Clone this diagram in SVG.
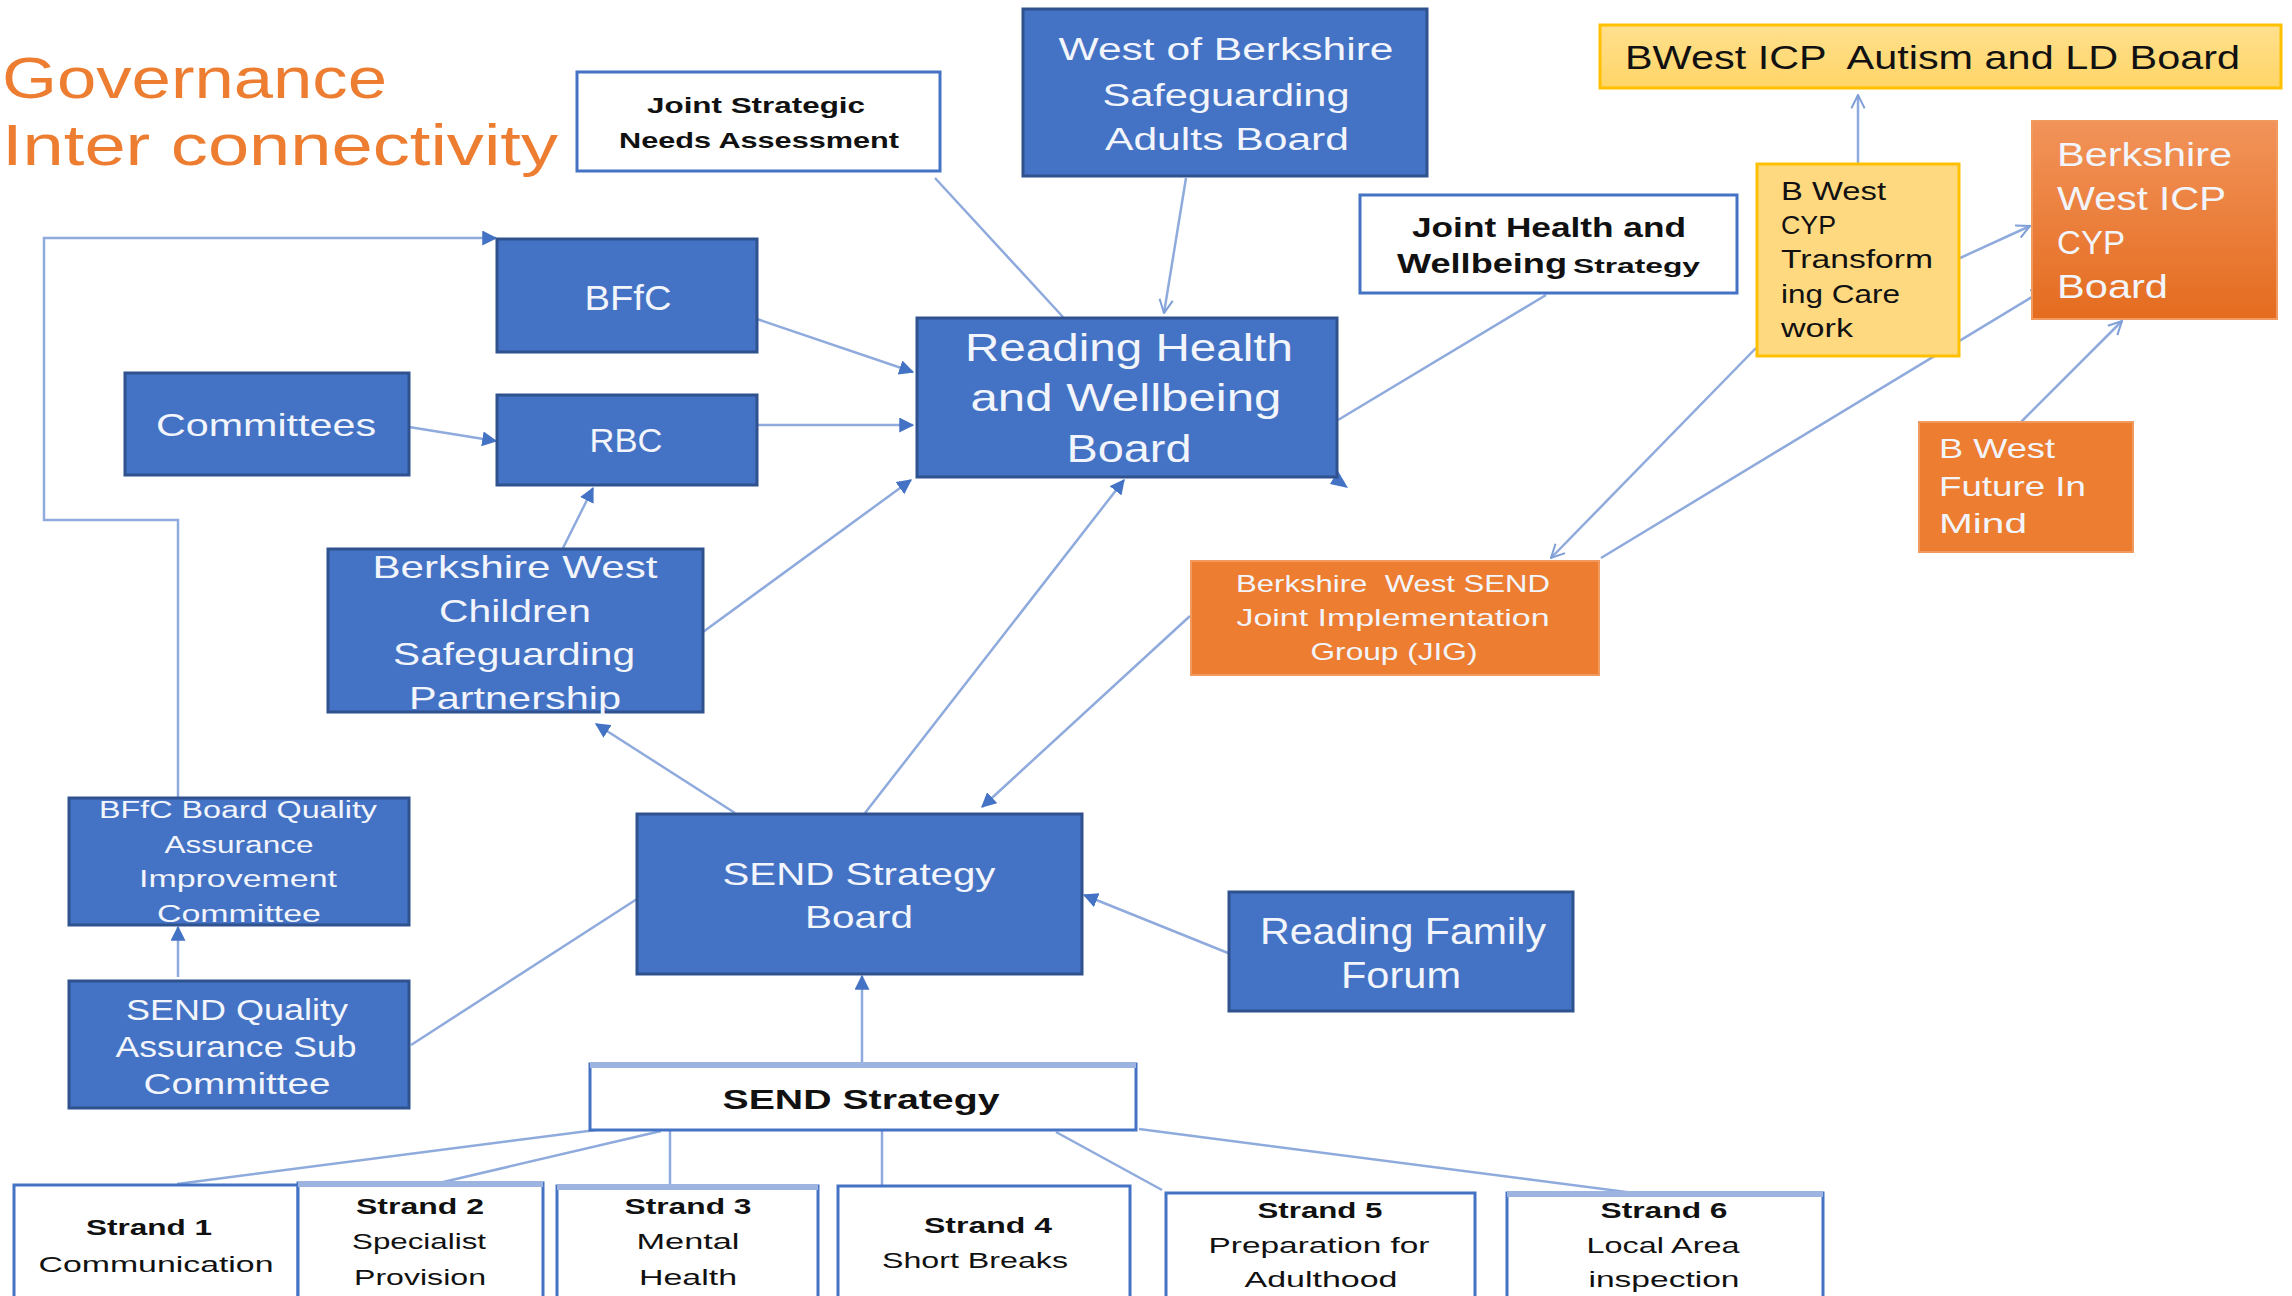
<svg xmlns="http://www.w3.org/2000/svg" width="2292" height="1296" viewBox="0 0 2292 1296">
<defs>
<style>
text{font-family:"Liberation Sans",Arial,sans-serif;}
.t{text-anchor:middle;}
.w{fill:#F2F5FB;}
.k{fill:#111;}
.b{font-weight:bold;}
.blue{fill:#4472C4;stroke:#2F528F;stroke-width:3;}
.wbox{fill:#FFFFFF;stroke:#4472C4;stroke-width:3;}
.orange{fill:#ED7D31;stroke:#F19A5F;stroke-width:2;}
.yellow{stroke:#FFC000;stroke-width:3;}
.c{fill:none;stroke:#8FAADC;stroke-width:2.5;}
.lt{stroke:#9DB3E0;stroke-width:6;}
</style>
<linearGradient id="gOr" x1="0" y1="0" x2="0" y2="1">
<stop offset="0" stop-color="#F2935A"/><stop offset="1" stop-color="#E46C1F"/>
</linearGradient>
<linearGradient id="gYe" x1="0" y1="0" x2="0" y2="1">
<stop offset="0" stop-color="#FFE08E"/><stop offset="1" stop-color="#FFD566"/>
</linearGradient>
<marker id="fa" viewBox="0 0 12 12" refX="11" refY="6" markerWidth="15" markerHeight="15" markerUnits="userSpaceOnUse" orient="auto">
<path d="M0,0 L12,6 L0,12 z" fill="#4472C4"/>
</marker>
<marker id="oa" viewBox="0 0 12 12" refX="11" refY="6" markerWidth="16" markerHeight="16" markerUnits="userSpaceOnUse" orient="auto">
<path d="M1,1 L11,6 L1,11" fill="none" stroke="#7F9FD6" stroke-width="1.5"/>
</marker>
</defs>
<rect width="2292" height="1296" fill="#FFFFFF"/>

<g id="title">
<text x="2" y="98" font-size="58" textLength="385" lengthAdjust="spacingAndGlyphs" fill="#ED7D31">Governance</text>
<text x="2" y="165" font-size="58" textLength="556" lengthAdjust="spacingAndGlyphs" fill="#ED7D31">Inter connectivity</text>
</g>

<g id="connectors">
<path class="c" d="M935,178 L1063,317"/>
<path class="c" d="M1186,178 L1164,313" marker-end="url(#oa)"/>
<path class="c" d="M757,319 L913,372" marker-end="url(#fa)"/>
<path class="c" d="M757,425 L913,425" marker-end="url(#fa)"/>
<path class="c" d="M409,427 L496,441" marker-end="url(#fa)"/>
<path class="c" d="M563,548 L593,488" marker-end="url(#fa)"/>
<path class="c" d="M703,632 L911,480" marker-end="url(#fa)"/>
<path class="c" d="M735,813 L596,724" marker-end="url(#fa)"/>
<path class="c" d="M865,813 L1124,480" marker-end="url(#fa)"/>
<path class="c" d="M1190,616 L982,807" marker-end="url(#fa)"/>
<path class="c" d="M1228,953 L1084,895" marker-end="url(#fa)"/>
<path class="c" d="M862,1063 L862,976" marker-end="url(#fa)"/>
<path class="c" d="M411,1045 L637,899"/>
<path class="c" d="M178,977 L178,927" marker-end="url(#fa)"/>
<path class="c" d="M178,798 L178,520 L44,520 L44,238 L496,238" marker-end="url(#fa)"/>
<path class="c" d="M1546,295 L1338,420"/>
<polygon points="1330,484 1348,488 1338,471" fill="#4472C4"/>
<path class="c" d="M1858,163 L1858,95" marker-end="url(#oa)"/>
<path class="c" d="M1960,258 L2030,226" marker-end="url(#oa)"/>
<path class="c" d="M1756,348 L1551,558" marker-end="url(#oa)"/>
<path class="c" d="M1601,558 L2045,289" marker-end="url(#oa)"/>
<path class="c" d="M2001,442 L2122,321" marker-end="url(#oa)"/>
<path class="c" d="M596,1130 L177,1184"/>
<path class="c" d="M661,1131 L439,1183"/>
<path class="c" d="M670,1131 L670,1187"/>
<path class="c" d="M882,1131 L882,1197"/>
<path class="c" d="M1056,1132 L1162,1190"/>
<path class="c" d="M1139,1129 L1634,1193"/>
</g>

<g id="jsna">
<rect class="wbox" x="577" y="72" width="363" height="99"/>
<text class="t k b" x="756" y="113" font-size="22" textLength="218" lengthAdjust="spacingAndGlyphs">Joint Strategic</text>
<text class="t k b" x="759" y="148" font-size="22" textLength="280" lengthAdjust="spacingAndGlyphs">Needs Assessment</text>
</g>

<g id="wob-sab">
<rect class="blue" x="1023" y="9" width="404" height="167"/>
<text class="t w" x="1226" y="60" font-size="31" textLength="335" lengthAdjust="spacingAndGlyphs">West of Berkshire</text>
<text class="t w" x="1226" y="106" font-size="31" textLength="247" lengthAdjust="spacingAndGlyphs">Safeguarding</text>
<text class="t w" x="1227" y="150" font-size="31" textLength="244" lengthAdjust="spacingAndGlyphs">Adults Board</text>
</g>

<g id="autism-ld">
<rect class="yellow" fill="url(#gYe)" x="1600" y="25" width="681" height="63"/>
<text class="k" x="1625" y="69" font-size="33" textLength="615" lengthAdjust="spacingAndGlyphs" style="white-space:pre">BWest ICP  Autism and LD Board</text>
</g>

<g id="icp-cyp">
<rect x="2032" y="121" width="245" height="198" fill="url(#gOr)" stroke="#F19A5F" stroke-width="2"/>
<text class="w" x="2057" y="166" font-size="33" textLength="175" lengthAdjust="spacingAndGlyphs">Berkshire</text>
<text class="w" x="2057" y="210" font-size="33" textLength="169" lengthAdjust="spacingAndGlyphs">West ICP</text>
<text class="w" x="2057" y="254" font-size="33" textLength="68" lengthAdjust="spacingAndGlyphs">CYP</text>
<text class="w" x="2057" y="298" font-size="33" textLength="111" lengthAdjust="spacingAndGlyphs">Board</text>
</g>

<g id="cyp-transforming">
<rect class="yellow" fill="#FFD97F" x="1757" y="164" width="202" height="192"/>
<text class="k" x="1781" y="200" font-size="26" textLength="105" lengthAdjust="spacingAndGlyphs">B West</text>
<text class="k" x="1781" y="234" font-size="26" textLength="55" lengthAdjust="spacingAndGlyphs">CYP</text>
<text class="k" x="1781" y="268" font-size="26" textLength="152" lengthAdjust="spacingAndGlyphs">Transform</text>
<text class="k" x="1781" y="303" font-size="26" textLength="119" lengthAdjust="spacingAndGlyphs">ing Care</text>
<text class="k" x="1781" y="337" font-size="26" textLength="72" lengthAdjust="spacingAndGlyphs">work</text>
</g>

<g id="jhws">
<rect class="wbox" x="1360" y="195" width="377" height="98"/>
<text class="t k b" x="1549" y="237" font-size="28" textLength="274" lengthAdjust="spacingAndGlyphs">Joint Health and</text>
<text class="k b" x="1397" y="273" font-size="28" textLength="170" lengthAdjust="spacingAndGlyphs">Wellbeing</text>
<text class="k b" x="1573" y="273" font-size="21" textLength="127" lengthAdjust="spacingAndGlyphs">Strategy</text>
</g>

<g id="rhwb">
<rect class="blue" x="917" y="318" width="420" height="159"/>
<text class="t w" x="1129" y="361" font-size="39" textLength="328" lengthAdjust="spacingAndGlyphs">Reading Health</text>
<text class="t w" x="1126" y="411" font-size="39" textLength="311" lengthAdjust="spacingAndGlyphs">and Wellbeing</text>
<text class="t w" x="1129" y="462" font-size="39" textLength="125" lengthAdjust="spacingAndGlyphs">Board</text>
</g>

<g id="bffc">
<rect class="blue" x="497" y="239" width="260" height="113"/>
<text class="t w" x="628" y="310" font-size="35" textLength="87" lengthAdjust="spacingAndGlyphs">BFfC</text>
</g>

<g id="rbc">
<rect class="blue" x="497" y="395" width="260" height="90"/>
<text class="t w" x="626" y="452" font-size="34" textLength="73" lengthAdjust="spacingAndGlyphs">RBC</text>
</g>

<g id="committees">
<rect class="blue" x="125" y="373" width="284" height="102"/>
<text class="t w" x="266" y="436" font-size="32" textLength="220" lengthAdjust="spacingAndGlyphs">Committees</text>
</g>

<g id="bwcsp">
<rect class="blue" x="328" y="549" width="375" height="163"/>
<text class="t w" x="515" y="578" font-size="32" textLength="285" lengthAdjust="spacingAndGlyphs">Berkshire West</text>
<text class="t w" x="515" y="622" font-size="32" textLength="152" lengthAdjust="spacingAndGlyphs">Children</text>
<text class="t w" x="514" y="665" font-size="32" textLength="242" lengthAdjust="spacingAndGlyphs">Safeguarding</text>
<text class="t w" x="515" y="709" font-size="32" textLength="212" lengthAdjust="spacingAndGlyphs">Partnership</text>
</g>

<g id="send-strategy-board">
<rect class="blue" x="637" y="814" width="445" height="160"/>
<text class="t w" x="859" y="885" font-size="32" textLength="273" lengthAdjust="spacingAndGlyphs">SEND Strategy</text>
<text class="t w" x="859" y="928" font-size="32" textLength="108" lengthAdjust="spacingAndGlyphs">Board</text>
</g>

<g id="bffc-qa">
<rect class="blue" x="69" y="798" width="340" height="127"/>
<text class="t w" x="238" y="818" font-size="23" textLength="278" lengthAdjust="spacingAndGlyphs">BFfC Board Quality</text>
<text class="t w" x="239" y="853" font-size="23" textLength="149" lengthAdjust="spacingAndGlyphs">Assurance</text>
<text class="t w" x="238" y="887" font-size="23" textLength="198" lengthAdjust="spacingAndGlyphs">Improvement</text>
<text class="t w" x="239" y="922" font-size="23" textLength="164" lengthAdjust="spacingAndGlyphs">Committee</text>
</g>

<g id="send-qa-sub">
<rect class="blue" x="69" y="981" width="340" height="127"/>
<text class="t w" x="237" y="1020" font-size="30" textLength="222" lengthAdjust="spacingAndGlyphs">SEND Quality</text>
<text class="t w" x="236" y="1057" font-size="30" textLength="241" lengthAdjust="spacingAndGlyphs">Assurance Sub</text>
<text class="t w" x="237" y="1094" font-size="30" textLength="187" lengthAdjust="spacingAndGlyphs">Committee</text>
</g>

<g id="rff">
<rect class="blue" x="1229" y="892" width="344" height="119"/>
<text class="t w" x="1403" y="944" font-size="36" textLength="286" lengthAdjust="spacingAndGlyphs">Reading Family</text>
<text class="t w" x="1401" y="988" font-size="36" textLength="120" lengthAdjust="spacingAndGlyphs">Forum</text>
</g>

<g id="jig">
<rect class="orange" x="1191" y="561" width="408" height="114"/>
<text class="t w" x="1393" y="592" font-size="24" textLength="314" lengthAdjust="spacingAndGlyphs" style="white-space:pre">Berkshire  West SEND</text>
<text class="t w" x="1393" y="626" font-size="24" textLength="313" lengthAdjust="spacingAndGlyphs">Joint Implementation</text>
<text class="t w" x="1394" y="660" font-size="24" textLength="167" lengthAdjust="spacingAndGlyphs">Group (JIG)</text>
</g>

<g id="future-in-mind">
<rect class="orange" x="1919" y="422" width="214" height="130"/>
<text class="w" x="1939" y="458" font-size="28" textLength="116" lengthAdjust="spacingAndGlyphs">B West</text>
<text class="w" x="1939" y="496" font-size="28" textLength="147" lengthAdjust="spacingAndGlyphs">Future In</text>
<text class="w" x="1939" y="533" font-size="28" textLength="88" lengthAdjust="spacingAndGlyphs">Mind</text>
</g>

<g id="send-strategy">
<rect class="wbox" x="590" y="1064" width="546" height="66"/>
<line class="lt" x1="590" y1="1065" x2="1136" y2="1065"/>
<text class="t k b" x="861" y="1109" font-size="27" textLength="277" lengthAdjust="spacingAndGlyphs">SEND Strategy</text>
</g>

<g id="strand1">
<rect class="wbox" x="14" y="1185" width="284" height="130"/>
<text class="t k b" x="149" y="1235" font-size="22" textLength="126" lengthAdjust="spacingAndGlyphs">Strand 1</text>
<text class="t k" x="156" y="1272" font-size="22" textLength="235" lengthAdjust="spacingAndGlyphs">Communication</text>
</g>
<g id="strand2">
<rect class="wbox" x="298" y="1183" width="245" height="130"/>
<line class="lt" x1="298" y1="1184" x2="543" y2="1184"/>
<text class="t k b" x="420" y="1214" font-size="22" textLength="128" lengthAdjust="spacingAndGlyphs">Strand 2</text>
<text class="t k" x="419" y="1249" font-size="22" textLength="134" lengthAdjust="spacingAndGlyphs">Specialist</text>
<text class="t k" x="420" y="1285" font-size="22" textLength="132" lengthAdjust="spacingAndGlyphs">Provision</text>
</g>
<g id="strand3">
<rect class="wbox" x="557" y="1186" width="261" height="130"/>
<line class="lt" x1="557" y1="1187" x2="818" y2="1187"/>
<text class="t k b" x="688" y="1214" font-size="22" textLength="127" lengthAdjust="spacingAndGlyphs">Strand 3</text>
<text class="t k" x="688" y="1249" font-size="22" textLength="103" lengthAdjust="spacingAndGlyphs">Mental</text>
<text class="t k" x="688" y="1285" font-size="22" textLength="98" lengthAdjust="spacingAndGlyphs">Health</text>
</g>
<g id="strand4">
<rect class="wbox" x="838" y="1186" width="292" height="130"/>
<text class="t k b" x="988" y="1233" font-size="22" textLength="128" lengthAdjust="spacingAndGlyphs">Strand 4</text>
<text class="t k" x="975" y="1268" font-size="22" textLength="186" lengthAdjust="spacingAndGlyphs">Short Breaks</text>
</g>
<g id="strand5">
<rect class="wbox" x="1166" y="1193" width="309" height="130"/>
<text class="t k b" x="1320" y="1218" font-size="22" textLength="125" lengthAdjust="spacingAndGlyphs">Strand 5</text>
<text class="t k" x="1319" y="1253" font-size="22" textLength="221" lengthAdjust="spacingAndGlyphs">Preparation for</text>
<text class="t k" x="1321" y="1287" font-size="22" textLength="153" lengthAdjust="spacingAndGlyphs">Adulthood</text>
</g>
<g id="strand6">
<rect class="wbox" x="1507" y="1193" width="316" height="130"/>
<line class="lt" x1="1507" y1="1194" x2="1823" y2="1194"/>
<text class="t k b" x="1664" y="1218" font-size="22" textLength="127" lengthAdjust="spacingAndGlyphs">Strand 6</text>
<text class="t k" x="1663" y="1253" font-size="22" textLength="153" lengthAdjust="spacingAndGlyphs">Local Area</text>
<text class="t k" x="1664" y="1287" font-size="22" textLength="151" lengthAdjust="spacingAndGlyphs">inspection</text>
</g>
</svg>
